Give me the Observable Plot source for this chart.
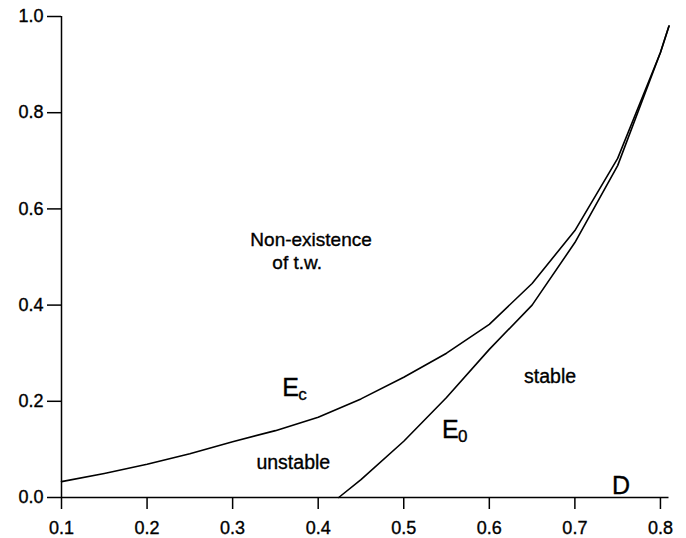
<!DOCTYPE html>
<html>
<head>
<meta charset="utf-8">
<script src="https://cdn.jsdelivr.net/npm/d3@7"></script>
<script src="https://cdn.jsdelivr.net/npm/@observablehq/plot@0.6"></script>
<style>
  html, body { margin: 0; padding: 0; background: #fff; }
  #chart { width: 686px; height: 538px; }
  #chart svg text { stroke: #000; stroke-width: 0.35px; }
</style>
</head>
<body>
<div id="chart"></div>
<script>
// Critical curve E_c(D): above it no travelling waves exist
const ecD = [0.10, 0.15, 0.20, 0.25, 0.30, 0.35, 0.40, 0.45, 0.50, 0.55, 0.60, 0.65, 0.70, 0.75, 0.80, 0.81];
const ecE = [0.033, 0.050, 0.069, 0.091, 0.116, 0.139, 0.167, 0.205, 0.250, 0.300, 0.360, 0.445, 0.555, 0.705, 0.925, 0.980];

// Stability boundary E_0(D)
const e0D = [0.424, 0.45, 0.50, 0.55, 0.60, 0.65, 0.70, 0.75, 0.80, 0.81];
const e0E = [0.000, 0.037, 0.117, 0.208, 0.308, 0.400, 0.530, 0.690, 0.925, 0.980];

// Axis ticks
const xTicks = [0.1, 0.2, 0.3, 0.4, 0.5, 0.6, 0.7, 0.8];
const yTicks = [0.0, 0.2, 0.4, 0.6, 0.8, 1.0];

// Region and curve annotations (data coordinates, baseline-anchored)
const regionText = ["Non-existence", "of t.w.", "unstable", "stable"];
const regionX = [0.3207, 0.3464, 0.3709, 0.671];
const regionY = [0.523, 0.476, 0.060, 0.239];
const regionAnchor = ["start", "start", "middle", "middle"];

const curveMain = ["E", "E", "D"];
const curveSub = ["c", "0", ""];
const curveX = [0.358, 0.5448, 0.7433];
const curveY = [0.212, 0.1227, 0.0083];

const ec = ecD.map((d, i) => ({D: d, E: ecE[i]}));
const e0 = e0D.map((d, i) => ({D: d, E: e0E[i]}));
const regions = regionText.map((t, i) => ({t, x: regionX[i], y: regionY[i], a: regionAnchor[i]}));
const curves = curveMain.map((t, i) => ({t, s: curveSub[i], x: curveX[i], y: curveY[i]}));

const font = "'Liberation Sans', Arial, Helvetica, sans-serif";

const chart = Plot.plot({
  width: 686,
  height: 538,
  marginLeft: 61,
  marginRight: 17.5,
  marginTop: 16,
  marginBottom: 41,
  x: {domain: [0.1, 0.81]},
  y: {domain: [0, 1]},
  style: {fontFamily: font, fontSize: "18px", color: "#000", background: "#fff"},
  marks: [
    Plot.ruleY([0], {stroke: "#000", strokeWidth: 1.6}),
    Plot.ruleX([0.1], {y1: 0, y2: 1, stroke: "#000", strokeWidth: 1.5}),
    Plot.axisX({ticks: xTicks, tickSize: 12, tickPadding: 12, tickFormat: d3.format(".1f"),
                label: null, fontSize: 18, strokeWidth: 1.5}),
    Plot.axisY({ticks: yTicks, tickSize: 14, tickPadding: 4, tickFormat: d3.format(".1f"),
                label: null, fontSize: 18, strokeWidth: 1.5}),
    Plot.line(ec, {x: "D", y: "E", stroke: "#000", strokeWidth: 1.6}),
    Plot.line(e0, {x: "D", y: "E", stroke: "#000", strokeWidth: 1.6}),
    Plot.text(regions.filter(r => r.a === "start"), {x: "x", y: "y", text: "t", textAnchor: "start",
              lineAnchor: "bottom", fontSize: 19, fill: "#000"}),
    Plot.text(regions.filter(r => r.a === "middle"), {x: "x", y: "y", text: "t", textAnchor: "middle",
              lineAnchor: "bottom", fontSize: 19.5, fill: "#000"}),
    Plot.text(curves, {x: "x", y: "y", text: "t", textAnchor: "start", lineAnchor: "bottom",
              fontSize: 25, fill: "#000"}),
    Plot.text(curves, {x: "x", y: "y", text: "s", textAnchor: "start", lineAnchor: "bottom",
              fontSize: 17, dx: 16, dy: 4, fill: "#000"})
  ]
});

document.getElementById("chart").appendChild(chart);
</script>
</body>
</html>
